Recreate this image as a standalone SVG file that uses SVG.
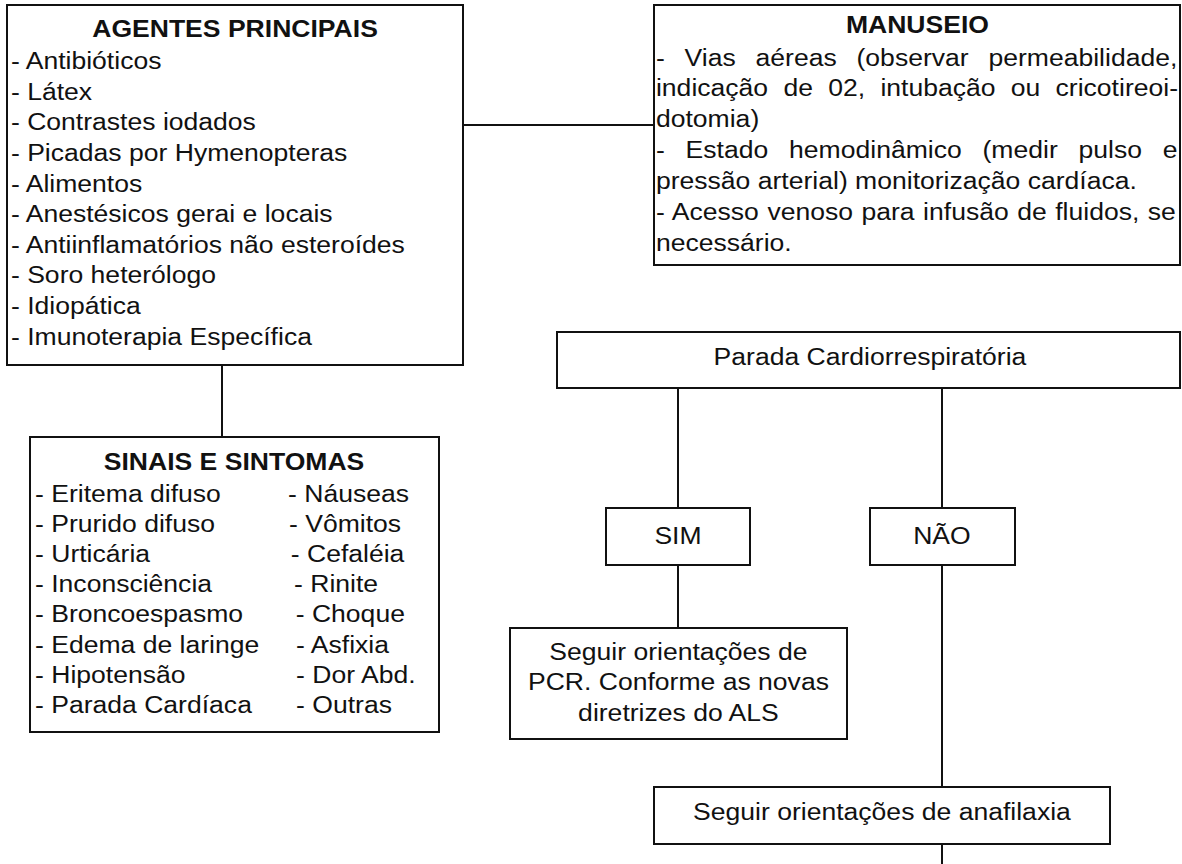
<svg xmlns="http://www.w3.org/2000/svg" width="1182" height="864" viewBox="0 0 1182 864">
<style>
.box{fill:#fff;stroke:#111;stroke-width:2}
.ln{fill:none;stroke:#111;stroke-width:2}
text{font-family:"Liberation Sans",Arial,sans-serif;font-size:23.5px;fill:#111}
.b{font-weight:bold}
.c{text-anchor:middle}
</style>
<rect width="1182" height="864" fill="#fff"/>
<g id="connectors">
<path class="ln" d="M463 125H654"/>
<path class="ln" d="M222 365V437"/>
<path class="ln" d="M678 388V508"/>
<path class="ln" d="M942 388V508"/>
<path class="ln" d="M678 565V628"/>
<path class="ln" d="M942 565V787"/>
<path class="ln" d="M942 844V864"/>
</g>
<g id="agentes">
<rect class="box" x="7" y="5" width="456" height="360"/>
<g transform="scale(1.13 1)">
<text class="b c" x="208" y="37">AGENTES PRINCIPAIS</text>
<text x="9.7" y="69.3">- Antibióticos</text>
<text x="9.7" y="99.9">- Látex</text>
<text x="9.7" y="130.5">- Contrastes iodados</text>
<text x="9.7" y="161.1">- Picadas por Hymenopteras</text>
<text x="9.7" y="191.7">- Alimentos</text>
<text x="9.7" y="222.3">- Anestésicos gerai e locais</text>
<text x="9.7" y="252.9">- Antiinflamatórios não esteroídes</text>
<text x="9.7" y="283.5">- Soro heterólogo</text>
<text x="9.7" y="314.1">- Idiopática</text>
<text x="9.7" y="344.7">- Imunoterapia Específica</text>
</g>
</g>
<g id="manuseio">
<rect class="box" x="654" y="5" width="526" height="260"/>
<g transform="scale(1.13 1)">
<text class="b c" x="811.9" y="32.7">MANUSEIO</text>
<text x="580.5" y="65.7" style="word-spacing:11px">- Vias aéreas (observar permeabilidade,</text>
<text x="580.5" y="96.5" style="word-spacing:7px">indicação de 02, intubação ou cricotireoi-</text>
<text x="580.5" y="127.3">dotomia)</text>
<text x="580.5" y="158.2" style="word-spacing:11.9px">- Estado hemodinâmico (medir pulso e</text>
<text x="580.5" y="189">pressão arterial) monitorização cardíaca.</text>
<text x="580.5" y="219.8" style="word-spacing:1px">- Acesso venoso para infusão de fluidos, se</text>
<text x="580.5" y="250.7">necessário.</text>
</g>
</g>
<g id="sinais">
<rect class="box" x="30" y="437" width="409" height="295"/>
<g transform="scale(1.13 1)">
<text class="b c" x="207.1" y="470">SINAIS E SINTOMAS</text>
<text x="31" y="501.7">- Eritema difuso</text>
<text x="31" y="531.9">- Prurido difuso</text>
<text x="31" y="562.1">- Urticária</text>
<text x="31" y="592.3">- Inconsciência</text>
<text x="31" y="622.5">- Broncoespasmo</text>
<text x="31" y="652.7">- Edema de laringe</text>
<text x="31" y="682.9">- Hipotensão</text>
<text x="31" y="713.1">- Parada Cardíaca</text>
<text x="254.9" y="501.7">- Náuseas</text>
<text x="255.8" y="531.9">- Vômitos</text>
<text x="257.3" y="562.1">- Cefaléia</text>
<text x="260.2" y="592.3">- Rinite</text>
<text x="261.7" y="622.5">- Choque</text>
<text x="262" y="652.7">- Asfixia</text>
<text x="262" y="682.9">- Dor Abd.</text>
<text x="262" y="713.1">- Outras</text>
</g>
</g>
<g id="parada">
<rect class="box" x="557" y="332" width="623" height="56"/>
<text class="c" transform="scale(1.13 1)" x="769.9" y="365">Parada Cardiorrespiratória</text>
</g>
<g id="sim">
<rect class="box" x="606" y="508" width="144" height="57"/>
<text class="c" transform="scale(1.13 1)" x="600" y="544">SIM</text>
</g>
<g id="nao">
<rect class="box" x="870" y="508" width="145" height="57"/>
<text class="c" transform="scale(1.13 1)" x="833.6" y="544">NÃO</text>
</g>
<g id="pcr">
<rect class="box" x="510" y="628" width="337" height="111"/>
<g transform="scale(1.13 1)">
<text class="c" x="600.4" y="660">Seguir orientações de</text>
<text class="c" x="600.4" y="690.5">PCR. Conforme as novas</text>
<text class="c" x="600.4" y="721">diretrizes do ALS</text>
</g>
</g>
<g id="anafilaxia">
<rect class="box" x="654" y="787" width="456" height="57"/>
<text class="c" transform="scale(1.13 1)" x="780.5" y="820">Seguir orientações de anafilaxia</text>
</g>
</svg>
